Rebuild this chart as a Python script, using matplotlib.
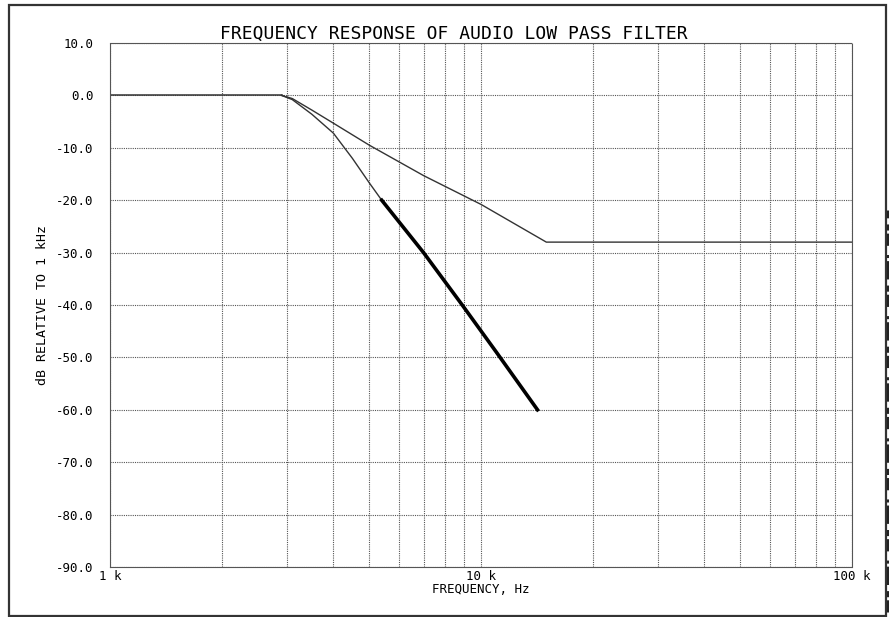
import matplotlib
matplotlib.use("Agg")
import matplotlib.pyplot as plt
from matplotlib.patches import Rectangle
from matplotlib.lines import Line2D

# flat passband (both responses identical up to the knee)
flat_freq = [1000, 2900]
flat_db = [0.0, 0.0]

# upper response: -40 dB/decade roll off, floor at -28 dB
upper_freq = [2900, 3100, 3500, 4000, 5000, 7000, 10000, 15000, 100000]
upper_db = [0.0, -0.6, -2.8, -5.3, -9.5, -15.3, -20.8, -28.0, -28.0]

# lower response, thin part
lower_freq = [2900, 3100, 3500, 4000, 4500, 5000, 5400]
lower_db = [0.0, -0.8, -3.6, -7.2, -12.0, -16.7, -20.0]

# lower response, heavy part
heavy_freq = [5400, 7000, 8900, 11000, 14200]
heavy_db = [-20.0, -30.0, -40.0, -49.0, -60.0]

y_ticks = [10, 0, -10, -20, -30, -40, -50, -60, -70, -80, -90]
x_ticks = [1000, 10000, 100000]
x_tick_labels = ["1 k", "10 k", "100 k"]

mono = "DejaVu Sans Mono"

fig = plt.figure(figsize=(8.89, 6.17), dpi=100)
ax = fig.add_axes([110 / 889, 1 - 567 / 617, (852 - 110) / 889, (567 - 43) / 617])

ax.plot(flat_freq, flat_db, color="#333333", linewidth=1.1)
ax.plot(upper_freq, upper_db, color="#333333", linewidth=1.0)
ax.plot(lower_freq, lower_db, color="#333333", linewidth=1.0)
ax.plot(heavy_freq, heavy_db, color="black", linewidth=2.6)

ax.set_xscale("log")
ax.set_xlim(1000, 100000)
ax.set_ylim(-90, 10)

ax.set_yticks(y_ticks)
ax.set_yticklabels([f"{v:.1f}" for v in y_ticks], fontfamily=mono, fontsize=9)
ax.set_xticks(x_ticks)
ax.set_xticklabels(x_tick_labels, fontfamily=mono, fontsize=9)
ax.tick_params(axis="both", which="both", length=0)
ax.tick_params(axis="y", pad=12)
ax.tick_params(axis="x", pad=2)

ax.grid(True, which="both", linestyle=(0, (1, 1)), color="#555555", linewidth=0.8)
for sp in ax.spines.values():
    sp.set_linestyle((0, (1, 1)))
    sp.set_linewidth(0.8)
    sp.set_color("#555555")

ax.set_title("FREQUENCY RESPONSE OF AUDIO LOW PASS FILTER", fontfamily=mono,
             fontsize=13, pad=1, x=0.463)
ax.set_xlabel("FREQUENCY, Hz", fontfamily=mono, fontsize=9, labelpad=0)
ax.set_ylabel("dB RELATIVE TO 1 kHz", fontfamily=mono, fontsize=9.5, labelpad=5)

# outer frame of the sheet
fig.patches.append(Rectangle((9 / 889, 1 / 617), 877 / 889, 611 / 617,
                             transform=fig.transFigure, fill=False,
                             edgecolor="#333333", linewidth=1.6))
# illegible vertical notes along the right edge
fig.lines.append(Line2D([887.5 / 889, 887.5 / 889], [1 - 612 / 617, 1 - 210 / 617],
                        transform=fig.transFigure, color="#222222", linewidth=2.2,
                        linestyle=(0, (4, 1, 2, 2, 6, 1, 1, 3))))

fig.savefig("out.png", dpi=100)
